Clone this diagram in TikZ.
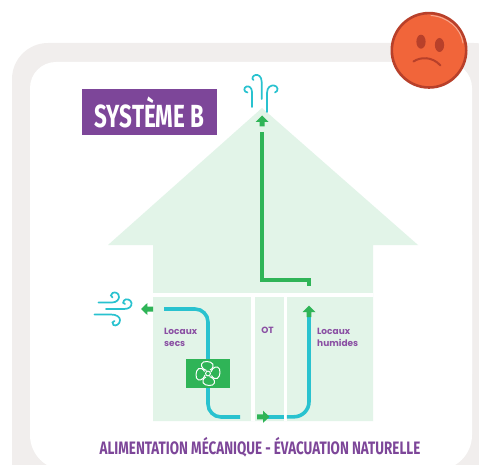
\documentclass[tikz,border=0pt]{standalone}
\usepackage{graphicx}
\usepackage{fontspec}
\newfontfamily\titlefont{Fira Sans}
\newfontfamily\labelfont{Poppins}
\definecolor{framegrey}{HTML}{F1EEED}
\definecolor{houselight}{HTML}{E2F4E8}
\definecolor{ductgreen}{HTML}{2FB457}
\definecolor{ductteal}{HTML}{29C2CF}
\definecolor{titlepurple}{HTML}{7D4699}
\definecolor{labelpurple}{HTML}{8A4FA3}
\definecolor{faceorange}{HTML}{F1653A}
\definecolor{facedark}{HTML}{B8402A}
\tikzset{
	teal/.style={draw=ductteal,line width=3.6pt},
	swirl/.style={draw=ductteal,line width=1.7pt,line cap=round},
	greenline/.style={draw=ductgreen,line width=4pt},
	tipfill/.style={fill=ductgreen},
	roomlabel/.style={text=labelpurple,font=\labelfont\bfseries\fontsize{9}{11.8}\selectfont,align=left,inner sep=0pt},
}
\begin{document}
\begin{tikzpicture}[x=1pt,y=-1pt]
		\useasboundingbox (0,0) rectangle (479,465);
		\clip (0,0) rectangle (479,465);
		\fill[framegrey,rounded corners=36] (12,43) rectangle (510,510);
		\fill[white,rounded corners=35] (30,200) rectangle (472,470);
		\fill[white,rounded corners=26] (30,62) rectangle (472,400);
		\fill[houselight] (262,108) -- (418,245) -- (373,245) -- (373,421) -- (153,421) -- (153,245) -- (108,245) -- cycle;
		\fill[white] (153,292.5) rectangle (373,296.5);
		\fill[white] (251,296.5) rectangle (254.5,421);
		\fill[white] (283.5,296.5) rectangle (286.8,421);
		\draw[greenline] (262,132) -- (262,280) -- (309,280);
		\fill[ductgreen] (307,278) rectangle (310.8,286);
		\fill[tipfill] (262,115.5) -- (268.5,122) -- (264.5,122) -- (264.5,126.5) -- (259.5,126.5) -- (259.5,122) -- (255.5,122) -- cycle;
		\draw[teal,rounded corners=13] (164,309) -- (208,309) -- (208,417) -- (240,417);
		\draw[teal] (267,416.8) -- (283.5,416.8);
		\draw[teal,rounded corners=15] (286.8,416.8) -- (309,416.8) -- (309,315);
		\fill[tipfill] (141,309) -- (147.3,303) -- (147.3,306.5) -- (153,306.5) -- (153,311.5) -- (147.3,311.5) -- (147.3,315) -- cycle;
		\fill[tipfill] (269.5,416.8) -- (263,410.7) -- (263,414.3) -- (257,414.3) -- (257,419.3) -- (263,419.3) -- (263,422.9) -- cycle;
		\fill[tipfill] (309,305.7) -- (315.5,312.2) -- (311.3,312.2) -- (311.3,317) -- (306.7,317) -- (306.7,312.2) -- (302.5,312.2) -- cycle;
		\fill[ductgreen] (186,359) rectangle (230,387.7);
		\foreach \ang in {0,90,180,270}
			\draw[white,line width=1pt,rotate around={\ang:(208,373.5)}] (206.5,370.5) .. controls (201,369) and (200,363.5) .. (203.5,362) .. controls (208,360.5) and (214.5,362.5) .. (213,367) .. controls (212.5,368.5) and (211,369.5) .. (210,370);
		\draw[white,line width=1pt] (208,373.5) circle (2.4);
		\draw[swirl] (261.7,99) -- (261.7,82) .. controls (261.7,76) and (258,74.5) .. (255.5,75) .. controls (252.5,75.5) and (251.5,79) .. (253.5,80);
		\draw[swirl] (252,107) -- (252,92) .. controls (252,88) and (249,85.5) .. (246.5,86.5) .. controls (243.5,87.5) and (243.5,92) .. (247.5,92.5);
		\draw[swirl] (267,112) -- (267,93) .. controls (267,87) and (271,85) .. (274,85.5) .. controls (278,86) and (279,91) .. (275,92.5);
		\draw[swirl] (98.5,302.5) -- (112,302.5) .. controls (117,302.5) and (119,299) .. (119,297) .. controls (119,293) and (115,291.5) .. (112.5,293) .. controls (110.5,294) and (110.5,297) .. (112.5,297.5);
		\draw[swirl] (106,309) -- (124,309) .. controls (129,309) and (132,306.5) .. (131.5,303) .. controls (131,299.5) and (126,298) .. (124,300.5) .. controls (122.5,302) and (123,304) .. (125,304);
		\draw[swirl] (94.5,314.5) -- (111,314.5) .. controls (116.5,314.5) and (120,317) .. (120,320) .. controls (120,324) and (116,326.5) .. (113.5,325) .. controls (111.5,323.5) and (112.5,321) .. (114.5,321);
		\fill[titlepurple] (82,89) rectangle (216.7,134.7);
		\node[text=white,inner sep=0pt] (titletext) at (149.5,112.5) {\titlefont\bfseries\fontsize{32}{32}\selectfont\scalebox{.7}[1]{SYSTÈME B}};
		\node[roomlabel,anchor=north west] (secs) at (164,328) {Locaux\\secs};
		\node[roomlabel,anchor=center] (ot) at (267.5,330.5) {OT};
		\node[roomlabel,anchor=north west] (humides) at (317,328) {Locaux\\humides};
		\node[text=titlepurple,inner sep=0pt] (caption) at (260,447.7) {\titlefont\bfseries\fontsize{18}{18}\selectfont\scalebox{.745}[1]{ALIMENTATION MÉCANIQUE - ÉVACUATION NATURELLE}};
		\filldraw[fill=faceorange,draw=facedark,line width=2.6pt] (429,50.3) circle (37.2);
		\draw[white,opacity=.45,line width=1pt,line cap=round] (431,15.5) .. controls (447,16.5) and (461,28) .. (463,43);
		\fill[facedark] (421,41.7) ellipse (4.6 and 7);
		\fill[facedark] (439.5,45) ellipse (4.6 and 7);
		\draw[facedark,line width=2pt,line cap=round] (413.5,61.5) .. controls (420,57) and (432,56) .. (440.5,65.5);
		\end{tikzpicture}
\end{document}
